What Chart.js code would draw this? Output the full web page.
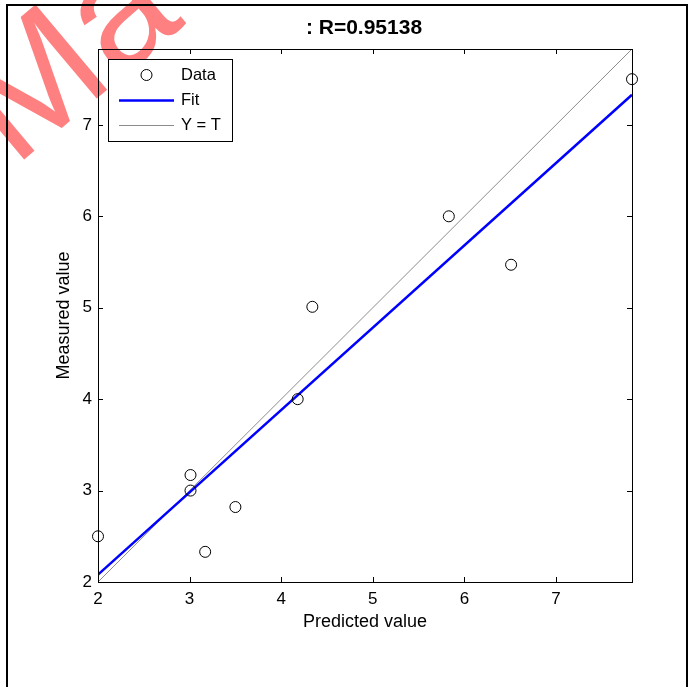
<!DOCTYPE html>
<html>
<head>
<meta charset="utf-8">
<script src="https://cdn.jsdelivr.net/npm/chart.js@4.4.1/dist/chart.umd.min.js"></script>
<style>
  html, body { margin: 0; padding: 0; background: #fff; }
  canvas { display: block; }
</style>
</head>
<body>
<canvas id="chart" width="689" height="687"></canvas>
<script>
// values
const predicted = [2.0, 3.01, 3.01, 3.17, 3.50, 4.18, 4.34, 5.83, 6.51, 7.83];
const measured  = [2.50, 3.17, 3.00, 2.33, 2.82, 4.00, 5.01, 6.00, 5.47, 7.50];
const fitX = [2.0, 7.83];
const fitY = [2.08, 7.33];
const identX = [2.0, 7.83];
const identY = [2.0, 7.83];
const axisMin = 2;
const axisMax = 7.83;
const titleText = ': R=0.95138';
const watermark = 'Ma';

const FONT = '"Liberation Sans", Arial, sans-serif';

const toPoints = (xs, ys) => xs.map((x, i) => ({ x: x, y: ys[i] }));

// white page, faded watermark and outer frame
const pagePlugin = {
    id: 'page',
    beforeDraw(chart) {
        const ctx = chart.ctx;
        ctx.save();
        ctx.fillStyle = '#fff';
        ctx.fillRect(0, 0, chart.width, chart.height);

        ctx.translate(14, 168);
        ctx.rotate(-40 * Math.PI / 180);
        ctx.font = '162px ' + FONT;
        ctx.fillStyle = '#ff8080';
        ctx.fillText(watermark, 0, 0);
        ctx.restore();

        ctx.save();
        ctx.strokeStyle = '#000';
        ctx.lineWidth = 2;
        ctx.strokeRect(7, 5, 680, 720);
        ctx.restore();
    }
};

// matlab style box, inward ticks, title and legend
const boxPlugin = {
    id: 'box',
    afterDraw(chart) {
        const ctx = chart.ctx;
        const a = chart.chartArea;
        const xs = chart.scales.x, ys = chart.scales.y;
        ctx.save();
        ctx.strokeStyle = '#000';
        ctx.lineWidth = 1;
        ctx.strokeRect(a.left + 0.5, a.top + 0.5, a.right - a.left, a.bottom - a.top);

        ctx.beginPath();
        xs.ticks.forEach(t => {
            const px = Math.round(xs.getPixelForValue(t.value)) + 0.5;
            ctx.moveTo(px, a.bottom); ctx.lineTo(px, a.bottom - 5);
            ctx.moveTo(px, a.top); ctx.lineTo(px, a.top + 5);
        });
        ys.ticks.forEach(t => {
            const py = Math.round(ys.getPixelForValue(t.value)) + 0.5;
            ctx.moveTo(a.left, py); ctx.lineTo(a.left + 5, py);
            ctx.moveTo(a.right, py); ctx.lineTo(a.right - 5, py);
        });
        ctx.stroke();

        // title
        ctx.fillStyle = '#000';
        ctx.font = 'bold 21px ' + FONT;
        ctx.textAlign = 'center';
        ctx.textBaseline = 'middle';
        ctx.fillText(titleText, (a.left + a.right) / 2 - 1, 28);

        // legend
        const lx = 108, ly = 59, lw = 124, lh = 82;
        ctx.fillStyle = '#fff';
        ctx.fillRect(lx, ly, lw, lh);
        ctx.strokeStyle = '#000';
        ctx.lineWidth = 1;
        ctx.strokeRect(lx + 0.5, ly + 0.5, lw, lh);

        const ds = chart.data.datasets;
        const rows = [75, 100, 125];
        ctx.font = '16.5px ' + FONT;
        ctx.textAlign = 'left';
        ds.forEach((d, i) => {
            const y = rows[i];
            ctx.beginPath();
            if (i === 0) {
                ctx.arc(146.5, y, d.pointRadius, 0, Math.PI * 2);
            } else {
                ctx.moveTo(119, y + 0.5); ctx.lineTo(174, y + 0.5);
            }
            ctx.strokeStyle = d.borderColor;
            ctx.lineWidth = d.borderWidth;
            ctx.stroke();
            ctx.fillStyle = '#000';
            ctx.fillText(d.label, 181, y);
        });
        ctx.restore();
    }
};

new Chart(document.getElementById('chart'), {
    type: 'scatter',
    data: {
        datasets: [{
            label: 'Data',
            data: toPoints(predicted, measured),
            pointStyle: 'circle',
            pointRadius: 5.5,
            borderColor: '#000',
            backgroundColor: 'rgba(0,0,0,0)',
            borderWidth: 1,
            showLine: false,
            clip: false
        }, {
            label: 'Fit',
            data: toPoints(fitX, fitY),
            showLine: true,
            borderColor: '#0000ff',
            borderWidth: 2.5,
            pointRadius: 0
        }, {
            label: 'Y = T',
            data: toPoints(identX, identY),
            showLine: true,
            borderColor: '#8c8c8c',
            borderWidth: 1,
            pointRadius: 0
        }]
    },
    options: {
        responsive: false,
        animation: false,
        layout: { padding: { left: 0, top: 49, right: 57, bottom: 0 } },
        plugins: {
            legend: { display: false },
            title: { display: false },
            tooltip: { enabled: false }
        },
        scales: {
            x: {
                type: 'linear',
                min: axisMin, max: axisMax,
                grid: { display: false, drawTicks: false },
                border: { display: false },
                ticks: { stepSize: 1, includeBounds: false, color: '#000', padding: 7,
                         font: { family: FONT, size: 17 } },
                title: { display: true, text: 'Predicted value', color: '#000',
                         font: { family: FONT, size: 18 }, padding: { top: 0, bottom: 54 } },
                afterFit(s) { s.height = 105; }
            },
            y: {
                type: 'linear',
                min: axisMin, max: axisMax,
                grid: { display: false, drawTicks: false },
                border: { display: false },
                ticks: { stepSize: 1, includeBounds: false, color: '#000', padding: 6,
                         font: { family: FONT, size: 17 } },
                title: { display: true, text: 'Measured value', color: '#000',
                         font: { family: FONT, size: 18 }, padding: { top: 53, bottom: 0 } },
                afterFit(s) { s.width = 98; }
            }
        }
    },
    plugins: [pagePlugin, boxPlugin]
});
</script>
</body>
</html>
